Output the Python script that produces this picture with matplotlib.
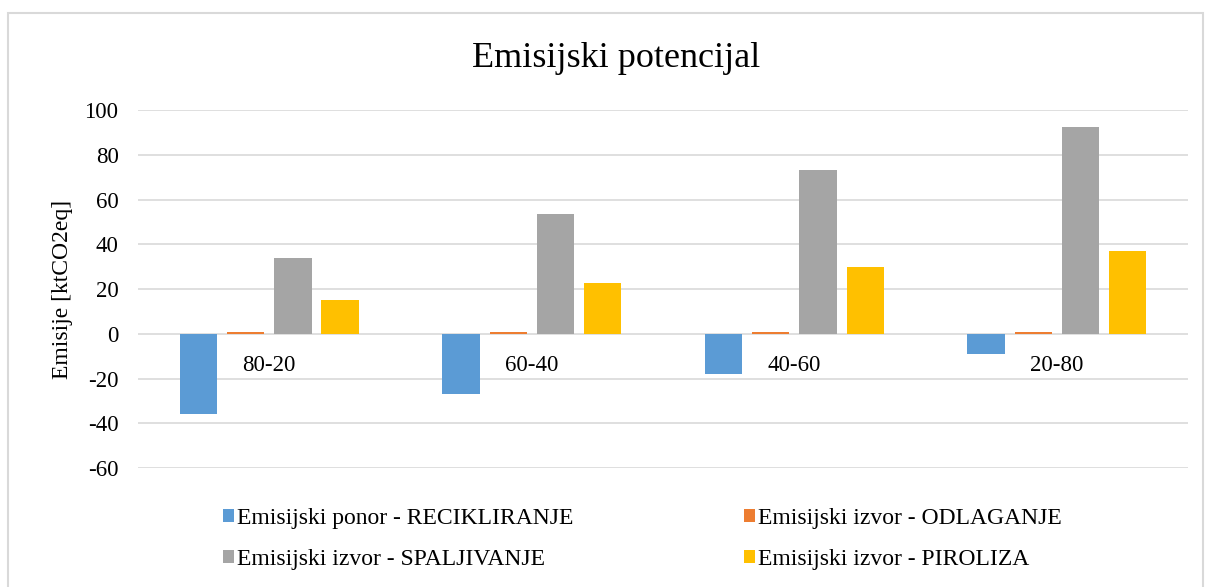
import matplotlib

matplotlib.use("Agg")

import matplotlib.pyplot as plt
import numpy as np
from matplotlib.patches import Rectangle

SERIF = ["Liberation Serif", "DejaVu Serif"]
GRID = "#d9d9d9"

categories = ["80-20", "60-40", "40-60", "20-80"]
series_names = [
    "Emisijski ponor - RECIKLIRANJE",
    "Emisijski izvor - ODLAGANJE",
    "Emisijski izvor - SPALJIVANJE",
    "Emisijski izvor - PIROLIZA",
]
recikliranje = [-36.0, -27.0, -18.0, -9.0]
odlaganje = [0.6, 0.6, 0.6, 0.6]
spaljivanje = [34.0, 53.5, 73.0, 92.5]
piroliza = [15.2, 22.6, 30.0, 37.0]
colors = ["#5b9bd5", "#ed7d31", "#a5a5a5", "#ffc000"]
y_ticks = [-60, -40, -20, 0, 20, 40, 60, 80, 100]

plt.rcParams["font.family"] = SERIF
plt.rcParams["axes.unicode_minus"] = False

figure = plt.figure(figsize=(12.05, 5.87), dpi=100, facecolor="white")
axis = figure.add_axes([0.1145, 0.2027, 0.8715, 0.6099])

x = np.arange(len(categories))
step = 0.18
width = 0.142
values = [recikliranje, odlaganje, spaljivanje, piroliza]
bars = []
for index, (name, data, color) in enumerate(zip(series_names, values, colors)):
    bars.append(
        axis.bar(
            x + (index - 1.5) * step,
            data,
            width=width,
            color=color,
            label=name,
            zorder=3,
        )
    )

for position, label in zip(x, categories):
    axis.text(position, -14, label, ha="center", va="center", fontsize=16.5, color="#000000")

axis.set_xlim(-0.5, len(categories) - 0.5)
axis.set_ylim(-60, 100)
axis.set_yticks(y_ticks)
axis.set_xticks([])
axis.tick_params(axis="y", length=0, labelsize=16.5, pad=14)
axis.grid(axis="y", color=GRID, linewidth=1.2)
axis.set_axisbelow(True)
for spine in axis.spines.values():
    spine.set_visible(False)
axis.set_ylabel("Emisije [ktCO2eq]", fontsize=17, labelpad=8)

figure.text(0.511, 0.9, "Emisijski potencijal", ha="center", va="center", fontsize=26)

# legend fills column-first, so interleave to get the reference's row order
order = [0, 2, 1, 3]
figure.legend(
    [bars[i] for i in order],
    [series_names[i] for i in order],
    loc="center",
    bbox_to_anchor=(0.533, 0.082),
    ncol=2,
    frameon=False,
    fontsize=17,
    handlelength=0.5,
    handleheight=0.5,
    handletextpad=0.12,
    columnspacing=7.2,
    labelspacing=0.85,
)

figure.patches.append(
    Rectangle(
        (8 / 1205, -0.02),
        1195 / 1205,
        1 - 13 / 587 + 0.02,
        transform=figure.transFigure,
        fill=False,
        edgecolor=GRID,
        linewidth=1.5,
    )
)

figure.savefig("out.png", dpi=100, facecolor="white")
